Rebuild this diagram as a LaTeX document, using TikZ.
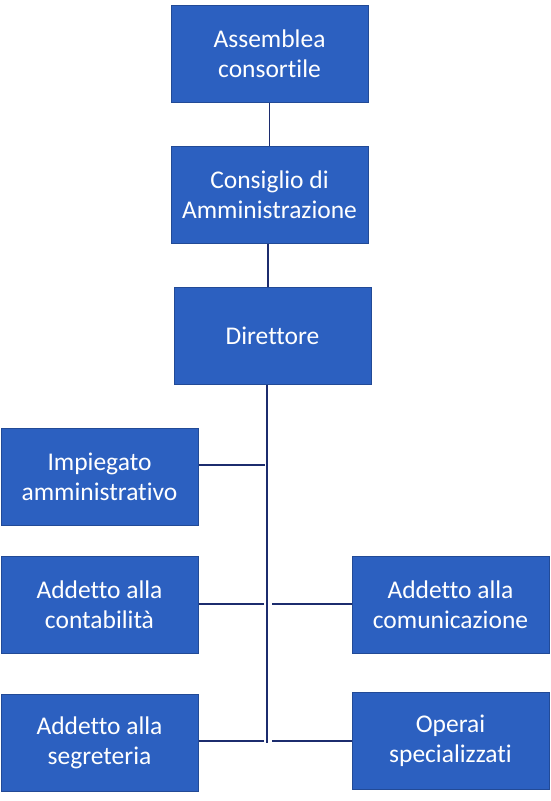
\documentclass[tikz,border=0pt]{standalone}
\usepackage{fontspec}
\setmainfont[Ligatures=CommonOff]{Carlito}
\definecolor{boxblue}{RGB}{44,96,192}
\definecolor{boxedge}{RGB}{34,74,150}
\definecolor{wire}{RGB}{28,44,110}

\begin{document}
\begin{tikzpicture}[x=1pt, y=-1pt,
    unit/.style={draw=boxedge, line width=1pt, fill=boxblue, text=white,
      minimum width=197pt, minimum height=97pt, align=center,
      font=\fontsize{25.5}{30}\selectfont},
    link/.style={draw=wire, line width=1.3pt}]
  \useasboundingbox (0,0) rectangle (551,801);

  \node [unit] (assemblea) at (269.5,53.5) {Assemblea\\consortile};
  \node [unit] (consiglio) at (269.5,194.5) {Consiglio di\\Amministrazione};
  \node [unit] (direttore) at (272.5,335.5) {Direttore};
  \node [unit] (impiegato) at (99.5,476.5) {Impiegato\\amministrativo};
  \node [unit] (contab) at (99.5,604.5) {Addetto alla\\contabilità};
  \node [unit] (segret) at (99.5,742.5) {Addetto alla\\segreteria};
  \node [unit] (comunic) at (450.5,604.5) {Addetto alla\\comunicazione};
  \node [unit] (operai) at (450.5,740.5) {Operai\\specializzati};

  \path [link] (assemblea) -- (consiglio);
  \path [link] (consiglio.south) ++(-1.5,0) coordinate (d) (d) -- (d |- direttore.north);
  \coordinate (trunk) at (267,743);
  \path [link] (trunk |- direttore.south) -- (trunk);

  \coordinate (j1) at (265,465);
  \coordinate (j2) at (264,604);
  \coordinate (j3) at (264,741);
  \coordinate (k2) at (272,604);
  \coordinate (k3) at (272,741);
  \path [link] (j1) -- (j1 -| impiegato.east);
  \path [link] (j2) -- (j2 -| contab.east);
  \path [link] (j3) -- (j3 -| segret.east);
  \path [link] (k2) -- (k2 -| comunic.west);
  \path [link] (k3) -- (k3 -| operai.west);
\end{tikzpicture}
\end{document}
